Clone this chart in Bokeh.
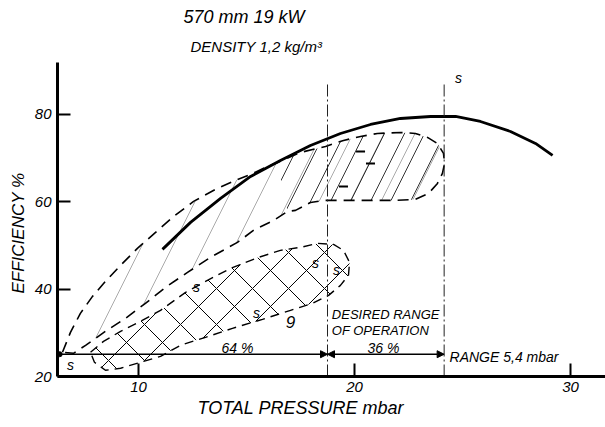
from bokeh.plotting import figure
from bokeh.models import Range1d, Label, Arrow, NormalHead, FixedTicker, Title
from bokeh.embed import file_html
from bokeh.resources import INLINE

# ---------------- data ----------------
x_ticks = [10, 20, 30]
y_ticks = [20, 40, 60, 80]

# efficiency curve (solid)
curve_x = [11.11, 12.41, 13.80, 15.19, 16.57, 17.96, 19.35, 20.74, 22.13, 23.52, 24.68, 25.83, 27.22, 28.38, 29.17]
curve_y = [49.11, 55.29, 60.78, 65.81, 69.47, 72.91, 75.65, 77.71, 79.08, 79.54, 79.54, 78.40, 76.11, 73.36, 70.62]

# big dashed envelope (closed loop)
loop_x = [6.48, 6.85, 7.31, 7.87, 8.47, 9.17, 9.95, 10.79, 11.57, 12.55, 13.56, 14.49, 15.19, 15.88, 16.44,
          17.50, 18.66, 19.49, 20.28, 21.06, 22.13, 22.82, 23.38, 23.84, 24.12, 24.17, 24.07, 23.84, 23.43,
          22.82, 21.90, 20.74, 19.58, 18.66, 17.96, 17.27, 16.90, 16.25, 15.32, 14.58, 13.33, 12.27, 11.25,
          10.32, 9.40, 8.47, 7.55, 6.99, 6.48]
loop_y = [25.54, 30.11, 34.46, 38.35, 41.78, 45.45, 49.34, 53.00, 56.43, 60.09, 62.84, 64.90, 66.27, 67.87, 69.02,
          71.30, 72.68, 74.05, 74.97, 75.65, 75.88, 75.65, 74.74, 73.36, 71.08, 68.79, 66.50, 64.21, 61.92,
          60.55, 60.32, 60.32, 60.32, 60.32, 59.86, 58.03, 57.81, 55.74, 53.46, 50.71, 47.28, 43.84, 40.41,
          36.75, 33.32, 30.34, 27.14, 25.31, 25.54]

# upper right hatched zone
zone_x = [16.44, 17.50, 18.66, 19.49, 20.28, 21.06, 22.13, 22.82, 23.38, 23.84, 24.12, 24.17, 24.07, 23.84,
          23.43, 22.82, 21.90, 20.74, 19.58, 18.66, 17.96, 17.27, 16.90]
zone_y = [69.02, 71.30, 72.68, 74.05, 74.97, 75.65, 75.88, 75.65, 74.74, 73.36, 71.08, 68.79, 66.50, 64.21,
          61.92, 60.55, 60.32, 60.32, 60.32, 60.32, 59.86, 58.03, 57.81]

# cross-hatched zone (dashed loop)
cross_x = [7.78, 8.38, 9.17, 10.09, 11.02, 12.18, 13.19, 14.26, 15.56, 16.57, 17.50, 18.29, 19.03, 19.49,
           19.77, 19.72, 19.35, 18.80, 18.06, 17.04, 15.74, 14.35, 13.10, 11.94, 11.02, 10.09, 9.17, 8.47,
           7.96, 7.78]
cross_y = [25.54, 28.05, 30.34, 32.63, 35.15, 39.27, 42.01, 44.76, 47.28, 48.88, 49.57, 50.48, 50.25, 48.88,
           46.13, 43.16, 40.87, 38.58, 36.75, 35.15, 33.09, 31.03, 28.97, 27.14, 24.62, 23.25, 21.88, 21.42,
           23.25, 25.54]

# small minus marks in the upper zone
minus_x = [20.28, 20.74, 19.49]
minus_y = [71.53, 68.79, 63.52]

# "s" marks
s_x = [12.69, 15.46, 18.19, 19.17, 6.85, 24.81]
s_y = [40.41, 34.46, 45.90, 44.30, 22.56, 88.24]

# range of operation
range_start = 6.35
range_low = 18.75
range_high = 24.15
range_level = 25.1
line_top = 87.3

FONT = "Liberation Sans"

p = figure(width=605, height=427, output_backend="svg", toolbar_location=None,
           x_range=Range1d(6.25, 31.62), y_range=Range1d(20.0, 91.9),
           min_border_left=57, min_border_right=0, min_border_top=62, min_border_bottom=51)
p.grid.visible = False
p.outline_line_color = None
p.background_fill_color = "white"
p.border_fill_color = "white"

for ax in (p.xaxis[0], p.yaxis[0]):
    ax.axis_line_width = 3
    ax.axis_line_color = "black"
    ax.major_tick_in = 13
    ax.major_tick_out = 0
    ax.major_tick_line_width = 2
    ax.minor_tick_line_color = None
    ax.major_label_text_font = FONT
    ax.major_label_text_font_style = "italic"
    ax.major_label_text_font_size = "15px"
    ax.major_label_text_color = "black"
p.xaxis.ticker = FixedTicker(ticks=x_ticks)
p.yaxis.ticker = FixedTicker(ticks=y_ticks)
p.xaxis.major_label_standoff = 5
p.yaxis.major_label_standoff = 6

# hatched areas
p.patch(loop_x, loop_y, fill_alpha=0, line_alpha=0, hatch_pattern="/", hatch_scale=62,
        hatch_weight=0.5, hatch_color="#555555")
p.patch(zone_x, zone_y, fill_alpha=0, line_alpha=0, hatch_pattern="/", hatch_scale=40,
        hatch_weight=0.8, hatch_color="black")
p.patch(cross_x, cross_y, fill_alpha=0, line_alpha=0, hatch_pattern="x", hatch_scale=36,
        hatch_weight=1.0, hatch_color="black")

# outlines
p.line(loop_x, loop_y, line_color="black", line_width=1.6, line_dash="11 7")
p.line(cross_x, cross_y, line_color="black", line_width=1.4, line_dash="9 6")

# efficiency curve
p.line(curve_x, curve_y, line_color="black", line_width=2.8)

# vertical dash-dot lines
p.segment(x0=[range_low, range_high], y0=[20, 20], x1=[range_low, range_high], y1=[line_top, line_top],
          line_color="#222222", line_width=1, line_dash="12 3 2 3")

# minus marks
p.scatter(minus_x, minus_y, marker="dash", size=9, line_width=2, line_color="black")

# range arrows
p.scatter([range_start], [range_level], size=5, color="black")
p.add_layout(Arrow(x_start=range_start, y_start=range_level, x_end=range_low, y_end=range_level,
                   line_width=1.6, end=NormalHead(size=7, fill_color="black", line_color="black")))
p.add_layout(Arrow(x_start=range_low, y_start=range_level, x_end=range_high, y_end=range_level,
                   line_width=1.6, start=NormalHead(size=7, fill_color="black", line_color="black"),
                   end=NormalHead(size=7, fill_color="black", line_color="black")))


def lab(x, y, text, size="13px", align="center"):
    p.add_layout(Label(x=x, y=y, text=text, text_font=FONT, text_font_style="italic",
                       text_font_size=size, text_align=align, text_baseline="middle",
                       text_color="black"))


for sx, sy in zip(s_x, s_y):
    lab(sx, sy, "s", size="14px")

lab(14.58, 26.6, "64 %", size="14px")
lab(21.34, 26.6, "36 %", size="14px")
lab(18.95, 34.2, "DESIRED  RANGE", size="13px", align="left")
lab(18.95, 30.6, "OF  OPERATION", size="13px", align="left")
lab(24.40, 24.4, "RANGE 5,4 mbar", size="14px", align="left")
lab(17.04, 32.4, "9", size="17px")

# titles and axis titles (side panels)
def title(text, side, size, offset, standoff):
    p.add_layout(Title(text=text, align="left", offset=offset, standoff=standoff,
                       text_font=FONT, text_font_style="italic", text_font_size=size,
                       text_color="black"), side)


title("DENSITY 1,2 kg/m³", "above", "15px", 133, 16)
title("570 mm  19 kW", "above", "18px", 126, 2)
title("EFFICIENCY  %", "left", "17px", 83, 8)
title("TOTAL  PRESSURE  mbar", "below", "18px", 140, 2)

open("out.html", "w").write(file_html(p, INLINE))
